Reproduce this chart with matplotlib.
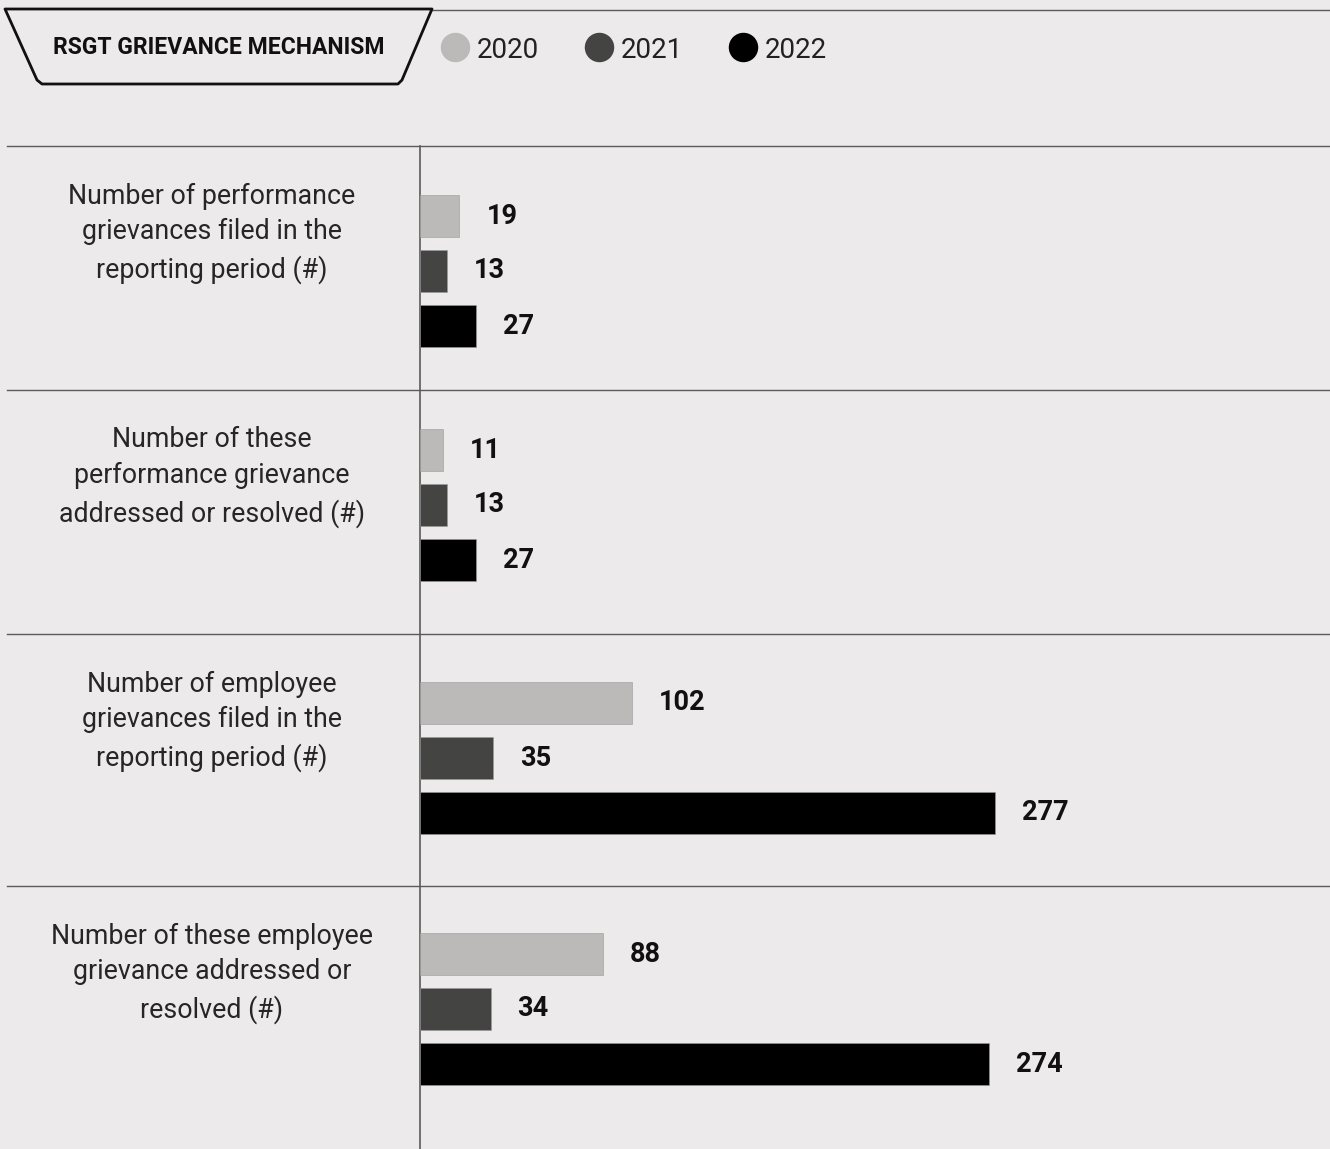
import matplotlib.pyplot as plt
from matplotlib.patches import Polygon

# grievance counts per year
categories = [
    "Number of performance\ngrievances filed in the\nreporting period (#)",
    "Number of these\nperformance grievance\naddressed or resolved (#)",
    "Number of employee\ngrievances filed in the\nreporting period (#)",
    "Number of these employee\ngrievance addressed or\nresolved (#)",
]
years = ["2020", "2021", "2022"]
values_2020 = [19, 11, 102, 88]
values_2021 = [13, 13, 35, 34]
values_2022 = [27, 27, 277, 274]
title = "RSGT GRIEVANCE MECHANISM"

BG = "#ECEAEB"
COLORS = ["#BBBAB8", "#444442", "#000000"]
LINE = "#5a5a5a"
W, H = 1330, 1149

plt.rcParams["font.family"] = ["Roboto", "DejaVu Sans"]

fig = plt.figure(figsize=(W / 100, H / 100), dpi=100)
fig.patch.set_facecolor(BG)

# background axes in pixel units for frame, header and row labels
bg = fig.add_axes([0, 0, 1, 1])
bg.set_xlim(0, W)
bg.set_ylim(H, 0)
bg.axis("off")
bg.set_facecolor(BG)

# section layout (pixel rows)
section_tops = [146, 390, 634, 886]
bar_offsets = [70, 60, 69, 68]
bar_step = 55
bar_h = 42

# header rule and tab
bg.plot([420, W], [10, 10], color=LINE, lw=1)
tab = Polygon([(5, 9), (432, 9), (402, 80), (398, 84), (42, 84), (37, 80)],
              closed=True, facecolor=BG, edgecolor="#111111", lw=2.0,
              joinstyle="round", zorder=3)
bg.add_patch(tab)
bg.text(219, 47, title, ha="center", va="center", fontsize=16.5,
        fontweight="bold", color="#111111", zorder=4)

# legend
leg_x = [455, 599, 743]
for x, yr, c in zip(leg_x, years, COLORS):
    bg.scatter([x], [47], s=450, color=c, zorder=4, linewidths=0)
    bg.text(x + 22, 50, yr, ha="left", va="center", fontsize=20,
            color="#222222", zorder=4)

# separators and axis line
for top in section_tops:
    bg.plot([7, W], [top, top], color=LINE, lw=1)
bg.plot([420, 420], [146, H], color=LINE, lw=1.2)

for top, label in zip(section_tops, categories):
    bg.text(212, top + 87, label, ha="center", va="center", fontsize=19.3,
            color="#262626", linespacing=1.42)

# bar axes aligned with the vertical rule
ax = fig.add_axes([420 / W, 0, (W - 420) / W, 1])
ax.set_facecolor("none")
ax.set_ylim(H, 0)
ax.set_xlim(0, (W - 420) / (575 / 277))
ax.axis("off")

series = [values_2020, values_2021, values_2022]
for k, (vals, c) in enumerate(zip(series, COLORS)):
    ys = [top + off + k * bar_step for top, off in zip(section_tops, bar_offsets)]
    ax.barh(ys, vals, height=bar_h, color=c, edgecolor="#9a9a9a", lw=0.4)
    for y, v in zip(ys, vals):
        ax.text(v + 13, y, str(v), ha="left", va="center", fontsize=19.5,
                fontweight="bold", color="#111111")

fig.savefig("out.png", dpi=100, facecolor=BG)
